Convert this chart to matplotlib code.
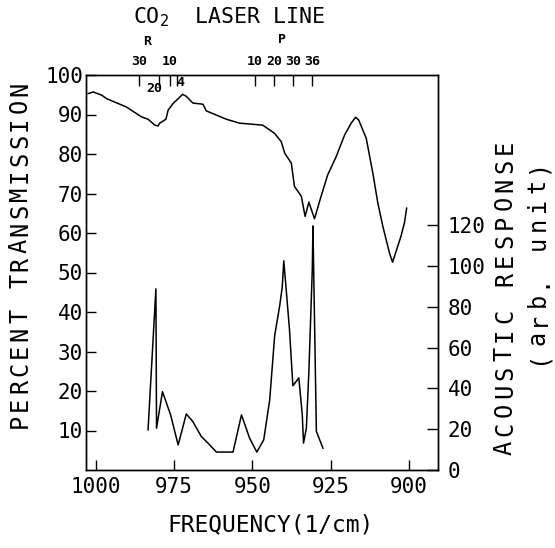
import matplotlib
matplotlib.use("Agg")
import matplotlib.pyplot as plt
import matplotlib.transforms as mtransforms

# IR transmission spectrum (frequency in 1/cm, percent transmission)
trans_freq = [1002.4, 1000.8, 998.1, 996.5, 990.2, 985.4, 983.3, 981.1, 980.1, 979.6,
              977.6, 976.9, 975.3, 973.7, 972.3, 971.1, 969.0, 965.8, 964.7, 958.3,
              954.1, 950.9, 946.7, 942.9, 940.8, 939.7, 937.6, 936.6, 934.4, 933.2,
              932.0, 930.2, 928.1, 926.0, 923.3, 920.6, 918.5, 917.1, 916.1, 913.7,
              911.6, 910.0, 908.4, 906.3, 905.3, 902.6, 901.5, 900.8]
trans_val = [95.3, 95.7, 94.9, 94.0, 91.9, 89.4, 88.8, 87.3, 87.1, 87.8,
             88.8, 91.1, 92.8, 94.0, 95.1, 94.6, 92.9, 92.6, 90.9, 88.8,
             87.8, 87.6, 87.3, 85.2, 83.1, 80.2, 77.7, 71.8, 69.3, 64.2,
             67.8, 63.6, 69.3, 74.7, 79.3, 84.8, 87.8, 89.3, 88.6, 84.0,
             75.2, 67.6, 61.7, 55.0, 52.6, 59.2, 62.6, 66.3]

# photoacoustic response (arb. unit)
acou_freq = [983.3, 980.8, 980.6, 978.7, 976.1, 973.7, 971.1, 969.0, 966.3, 964.2,
             961.5, 956.2, 953.5, 950.9, 948.6, 946.4, 944.5, 942.9, 941.3, 940.5,
             940.0, 938.2, 937.1, 935.2, 934.1, 933.7, 932.8, 932.0, 930.9, 930.7,
             929.6, 927.5]
acou_val = [19.7, 88.8, 20.5, 38.4, 27.0, 12.3, 27.5, 23.7, 16.4, 13.2,
            8.8, 8.8, 27.0, 15.6, 8.8, 14.8, 34.3, 66.0, 80.6, 89.6,
            102.6, 69.3, 41.3, 45.2, 27.0, 13.2, 20.5, 48.1, 98.5, 119.7,
            18.9, 10.7]

# CO2 laser lines (positions as drawn on the top axis)
r_freq = [986.1, 979.9, 976.4, 974.2]
r_labels = ["30", "20", "10", "4"]
p_freq = [949.3, 943.2, 937.1, 931.0]
p_labels = ["10", "20", "30", "36"]

x_ticks = [1000, 975, 950, 925, 900]
left_ticks = [10, 20, 30, 40, 50, 60, 70, 80, 90, 100]
right_ticks = [0, 20, 40, 60, 80, 100, 120]

W, H = 555, 548
# fixed pitch font, closest to the plotter lettering of the original
plt.rcParams['font.family'] = ['DejaVu Sans Mono']
plt.rcParams['mathtext.fontset'] = 'custom'
plt.rcParams['mathtext.rm'] = 'DejaVu Sans Mono'
plt.rcParams['mathtext.default'] = 'rm'


# vertical labels are set one character at a time to get the wide pitch
def vtext(fig, x, y_bottom, s, pitch, size):
    for i, ch in enumerate(s):
        yc = y_bottom - pitch * (i + 0.5)
        fig.text(x / W, 1 - yc / H, ch, rotation=90, ha="center", va="center",
                 fontsize=size)


fig = plt.figure(figsize=(W / 100, H / 100), dpi=100)
ax = fig.add_axes([86/W, 1-470/H, (438-86)/W, (470-75)/H])

ax.plot(trans_freq, trans_val, color="black", lw=1.1)
ax.set_xlim(1003.1, 890.8)
ax.set_ylim(0, 100)
ax.set_xticks(x_ticks)
ax.set_yticks(left_ticks)
ax.tick_params(axis="both", direction="in", length=7, width=1, labelsize=15)
ax.tick_params(axis="y", pad=2)
ax.tick_params(axis="x", pad=5)

# laser line ticks on the top edge
top = ax.secondary_xaxis("top")
top.set_xticks(r_freq + p_freq)
top.set_xticklabels([])
top.tick_params(direction="in", length=8, width=1)
top.spines["top"].set_visible(False)

trans = mtransforms.blended_transform_factory(ax.transData, ax.transAxes)
# 30 and 10 above the axis, 20 and 4 below it
shift = [0, -4, 0, 4]
lab_y = [1.033, 0.967, 1.033, 0.980]
for f, lab, dx, yy in zip(r_freq, r_labels, shift, lab_y):
    ax.text(f, yy, lab, transform=trans + mtransforms.ScaledTranslation(dx/100, 0, fig.dpi_scale_trans),
            ha="center", va="center", fontsize=9.5, fontweight="bold")
for f, lab in zip(p_freq, p_labels):
    ax.text(f, 1.033, lab, transform=trans, ha="center", va="center",
            fontsize=9.5, fontweight="bold")
ax.text(983.7, 1.084, "R", transform=trans, ha="center", va="center",
        fontsize=9.5, fontweight="bold")
ax.text(940.7, 1.089, "P", transform=trans, ha="center", va="center",
        fontsize=9.5, fontweight="bold")
fig.text(229/W, 1-17/H, r"CO$_2$  LASER LINE", ha="center", va="center", fontsize=15.5)

ax2 = ax.twinx()
ax2.plot(acou_freq, acou_val, color="black", lw=1.1)
ax2.set_ylim(0, 193.7)
ax2.set_yticks(right_ticks)
ax2.tick_params(axis="y", direction="in", length=8, width=1, labelsize=15, pad=7)

for a in (ax, ax2):
    for s in a.spines.values():
        s.set_linewidth(1)

vtext(fig, 20, 430, "PERCENT TRANSMISSION", 17.5, 17)
vtext(fig, 505, 457, "ACOUSTIC RESPONSE", 18.8, 17)
vtext(fig, 538, 367, "(arb. unit)", 19.1, 17)
fig.text(271/W, 1-525/H, "FREQUENCY(1/cm)", ha="center", va="center", fontsize=16.5)

fig.savefig("out.png", dpi=100)
